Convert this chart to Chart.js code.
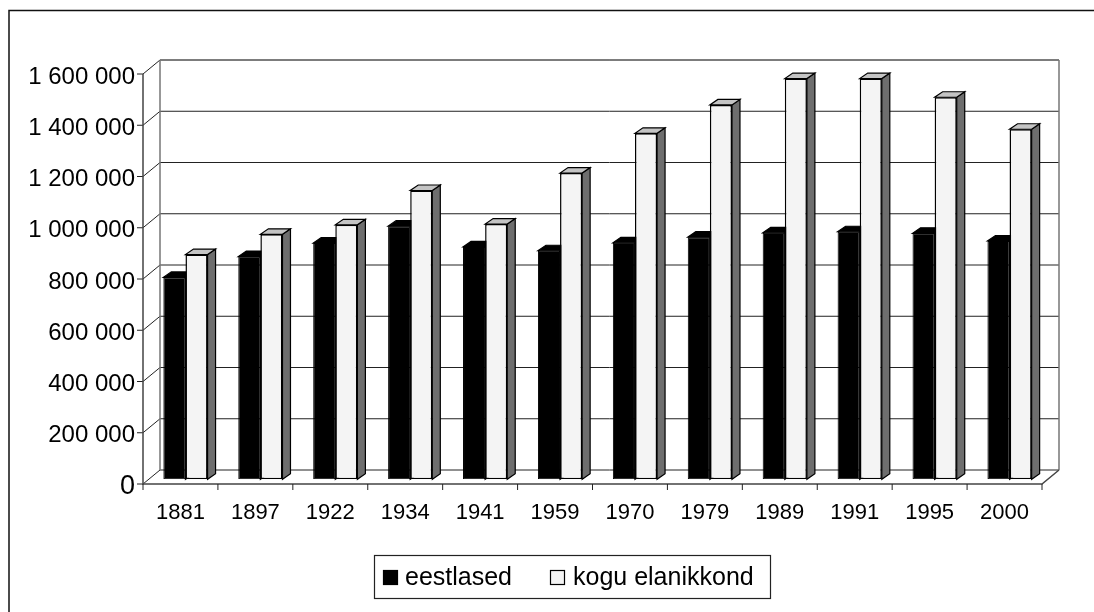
<!DOCTYPE html>
<html>
<head>
<meta charset="utf-8">
<title>Eesti rahvaarv</title>
<script src="https://cdn.jsdelivr.net/npm/chart.js@4.4.1/dist/chart.umd.min.js"></script>
<style>
  html, body { margin: 0; padding: 0; background: #fff; }
  #wrap { width: 1094px; height: 612px; }
</style>
</head>
<body>
<div id="wrap"><canvas id="rahvaarvChart" width="1094" height="612"></canvas></div>
<script>
// andmed
const years = ['1881', '1897', '1922', '1934', '1941', '1959', '1970', '1979', '1989', '1991', '1995', '2000'];
const eestlased = [788000, 869000, 922000, 988000, 907000, 892000, 923000, 945000, 962000, 966000, 960000, 930000];
const koguElanikkond = [877000, 956000, 993000, 1127000, 996000, 1195000, 1350000, 1461000, 1564000, 1564000, 1491000, 1366000];
const seriesNames = ['eestlased', 'kogu elanikkond'];
const yTicks = [0, 200000, 400000, 600000, 800000, 1000000, 1200000, 1400000, 1600000];

// 3D nihked (pikslites) tasandi suhtes, kus tulbad asuvad
const FRONT = { dx: -5, dy: 4.7 };
const BACK = { dx: 12, dy: -9.3 };
const BAR_DEPTH = { dx: 8, dy: -5.5 };
const FONT = '"Liberation Sans", Arial, sans-serif';

function formatThousands(v) {
    return String(v).replace(/\B(?=(\d{3})+(?!\d))/g, ' ');
}

// seinad, põrand ja tulpade külgpinnad
const depthPlugin = {
    id: 'depth3d',
    beforeDatasetsDraw(chart) {
        const { ctx, chartArea, scales: { x, y } } = chart;
        const left = chartArea.left, right = chartArea.right;
        const top = y.getPixelForValue(yTicks[yTicks.length - 1]);
        const base = y.getPixelForValue(0);
        ctx.save();

        // tagasein + külgsein
        ctx.lineWidth = 1;
        ctx.strokeStyle = '#222';
        yTicks.forEach(v => {
            const py = y.getPixelForValue(v);
            ctx.beginPath();
            ctx.moveTo(left + FRONT.dx - 6, py + FRONT.dy);
            ctx.lineTo(left + FRONT.dx, py + FRONT.dy);
            ctx.lineTo(left + BACK.dx, py + BACK.dy);
            ctx.lineTo(right + BACK.dx, py + BACK.dy);
            ctx.stroke();
        });
        ctx.strokeStyle = '#777';
        ctx.lineWidth = 1.5;
        ctx.beginPath();
        ctx.moveTo(left + BACK.dx, top + BACK.dy);
        ctx.lineTo(left + BACK.dx, base + BACK.dy);
        ctx.moveTo(right + BACK.dx, top + BACK.dy);
        ctx.lineTo(right + BACK.dx, base + BACK.dy);
        ctx.moveTo(left + BACK.dx, top + BACK.dy);
        ctx.lineTo(right + BACK.dx, top + BACK.dy);
        ctx.stroke();

        // esitelg
        ctx.strokeStyle = '#444';
        ctx.beginPath();
        ctx.moveTo(left + FRONT.dx, top + FRONT.dy);
        ctx.lineTo(left + FRONT.dx, base + FRONT.dy);
        ctx.lineTo(right + FRONT.dx, base + FRONT.dy);
        ctx.lineTo(right + BACK.dx, base + BACK.dy);
        ctx.stroke();

        // x-telje jaotised
        const cw = (right - left) / years.length;
        ctx.lineWidth = 1;
        ctx.strokeStyle = '#222';
        ctx.beginPath();
        for (let i = 0; i <= years.length; i++) {
            const px = left + i * cw + FRONT.dx;
            ctx.moveTo(px, base + FRONT.dy);
            ctx.lineTo(px, base + FRONT.dy + 6);
        }
        ctx.stroke();

        // tulpade pealmine ja külgmine tahk
        chart.data.datasets.forEach((ds, di) => {
            chart.getDatasetMeta(di).data.forEach(bar => {
                const p = bar.getProps(['x', 'y', 'width', 'base'], true);
                const l = p.x - p.width / 2, r = p.x + p.width / 2;
                ctx.lineWidth = 1.2;
                ctx.strokeStyle = '#000';
                ctx.fillStyle = ds.sideColor;
                ctx.beginPath();
                ctx.moveTo(r, p.y);
                ctx.lineTo(r + BAR_DEPTH.dx, p.y + BAR_DEPTH.dy);
                ctx.lineTo(r + BAR_DEPTH.dx, p.base + BAR_DEPTH.dy);
                ctx.lineTo(r, p.base);
                ctx.closePath();
                ctx.fill();
                ctx.stroke();
                ctx.fillStyle = ds.topColor;
                ctx.beginPath();
                ctx.moveTo(l, p.y);
                ctx.lineTo(r, p.y);
                ctx.lineTo(r + BAR_DEPTH.dx, p.y + BAR_DEPTH.dy);
                ctx.lineTo(l + BAR_DEPTH.dx, p.y + BAR_DEPTH.dy);
                ctx.closePath();
                ctx.fill();
                ctx.stroke();
            });
        });
        ctx.restore();
    },
    afterDraw(chart) {
        const ctx = chart.ctx;
        ctx.save();
        // välimine raam
        ctx.strokeStyle = '#111';
        ctx.lineWidth = 1.5;
        ctx.beginPath();
        ctx.moveTo(9, 612);
        ctx.lineTo(9, 10.5);
        ctx.lineTo(1094, 10.5);
        ctx.stroke();

        // legend
        ctx.lineWidth = 1.2;
        ctx.strokeStyle = '#222';
        ctx.strokeRect(374.5, 555.5, 396, 43);
        const items = [
            { x: 383, textX: 405 },
            { x: 550, textX: 573 }
        ];
        ctx.font = '25px ' + FONT;
        ctx.textBaseline = 'middle';
        ctx.textAlign = 'left';
        chart.data.datasets.forEach((ds, i) => {
            ctx.fillStyle = ds.backgroundColor;
            ctx.fillRect(items[i].x, 570, 15, 15);
            ctx.strokeStyle = '#000';
            ctx.lineWidth = 1.2;
            ctx.strokeRect(items[i].x + 0.5, 570.5, 14, 14);
            ctx.fillStyle = '#000';
            ctx.fillText(ds.label, items[i].textX, 578);
        });
        ctx.restore();
    }
};

new Chart(document.getElementById('rahvaarvChart'), {
    type: 'bar',
    data: {
        labels: years,
        datasets: [
            {
                label: seriesNames[0],
                data: eestlased,
                backgroundColor: '#000000',
                borderColor: '#000000',
                borderWidth: 1,
                borderSkipped: false,
                topColor: '#000000',
                sideColor: '#000000'
            },
            {
                label: seriesNames[1],
                data: koguElanikkond,
                backgroundColor: '#f4f4f4',
                borderColor: '#000000',
                borderWidth: 1.5,
                borderSkipped: false,
                topColor: '#c4c4c4',
                sideColor: '#6e6e6e'
            }
        ]
    },
    options: {
        responsive: false,
        animation: false,
        layout: { padding: { top: 69.3, right: 47, bottom: 0, left: 0 } },
        datasets: {
            bar: { categoryPercentage: 0.59, barPercentage: 1.0 }
        },
        scales: {
            x: {
                grid: { display: false, drawTicks: false },
                border: { display: false },
                ticks: {
                    color: '#000',
                    font: { family: FONT, size: 22 },
                    padding: 20,
                    labelOffset: FRONT.dx,
                    maxRotation: 0,
                    autoSkip: false
                },
                afterFit(scale) { scale.height = 612 - 479.3; }
            },
            y: {
                min: 0,
                max: 1600000,
                grid: { display: false, drawTicks: false },
                border: { display: false },
                ticks: {
                    stepSize: 200000,
                    color: '#000',
                    padding: 13,
                    labelOffset: 7.7,
                    font: ctx => ({ family: FONT, size: ctx.tick && ctx.tick.value === 0 ? 27 : 24 }),
                    callback: v => formatThousands(v)
                },
                afterFit(scale) { scale.width = 148; }
            }
        },
        plugins: {
            legend: { display: false },
            tooltip: { enabled: false }
        }
    },
    plugins: [depthPlugin]
});
</script>
</body>
</html>
